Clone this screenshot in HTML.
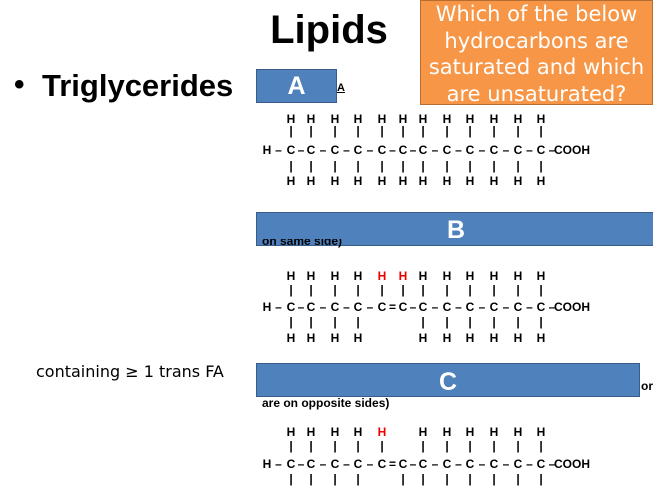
<!DOCTYPE html>
<html><head><meta charset="utf-8"><style>
html,body{margin:0;width:653px;height:491px;overflow:hidden}
body{background:#fff;position:relative;font-family:"Liberation Sans","DejaVu Sans",sans-serif}
.a{position:absolute;white-space:nowrap}
.box{position:absolute;background:#4F81BD;border:1.5px solid #385d8a;color:#fff;font-weight:bold;font-size:25px;text-align:center;box-sizing:border-box}
.g{position:absolute;font-weight:bold;font-size:12px;transform:translateX(-50%);color:#000}
</style></head><body>
<div class="a" style="left:0;width:658px;text-align:center;top:8px;font-size:40px;font-weight:bold">Lipids</div>
<div class="a" style="left:14px;top:68px;font-size:30px;font-weight:bold">•</div>
<div class="a" style="left:42px;top:68px;font-size:31px;font-weight:bold">Triglycerides</div>
<div class="a" style="left:420px;top:0;width:233px;height:105px;background:#F79646;border:1.5px solid #b66d31;box-sizing:border-box;color:#fff;font-size:21px;line-height:26.5px;text-align:center;white-space:normal;font-family:'DejaVu Sans',sans-serif">Which of the below hydrocarbons are saturated and which are unsaturated?</div>
<div class="box" style="left:256px;top:69px;width:81px;height:34px;line-height:32px">A</div>
<div class="a" style="left:337px;top:82px;font-size:11px;font-weight:bold;text-decoration:underline">A</div>
<div class="box" style="left:256px;top:212px;width:400px;height:34px;line-height:34px">B</div>
<div class="a" style="left:262px;top:239px;height:9px;overflow:hidden;font-size:12px;font-weight:bold;line-height:16px"><span style="position:relative;top:-6px">on same side)</span></div>
<div class="box" style="left:256px;top:363px;width:384px;height:34px;line-height:36px">C</div>
<div class="a" style="left:641px;top:379px;font-size:12px;font-weight:bold">or</div>
<div class="a" style="left:262px;top:396px;font-size:12px;font-weight:bold">are on opposite sides)</div>
<div class="a" style="left:36px;top:362px;font-size:16px;font-family:'DejaVu Sans',sans-serif">containing ≥ 1 trans FA</div>
<div id="mol"></div>
<script>
const cols=[291,311,335,358,382,403,423,447,470,494,518,541];
const mols=[
 {y:[120,132,151,167,182],top:"HHHHHHHHHHHH",bot:"HHHHHHHHHHHH",red:[],bond:"------------"},
 {y:[277,291,308,323,339],top:"HHHHHHHHHHHH",bot:"HHHH..HHHHHH",red:[4,5],bond:"-----=------"},
 {y:[433,447,465,480,999],top:"HHHHH.HHHHHH",bot:"HHHH.HHHHHHH",red:[4],bond:"-----=------"}
];
const root=document.getElementById('mol');
function put(x,y,t,c,name){if(y>491)return;const s=document.createElement('span');s.className='g';s.style.left=x+'px';s.style.top=(y-8)+'px';s.textContent=t;if(c)s.style.color=c;


root.appendChild(s);}
mols.forEach((m,mi)=>{
 cols.forEach((x,i)=>{
  if(m.top[i]==='H'){put(x,m.y[0],'H',m.red.includes(i)?'#e00':null,'h-atom');put(x,m.y[1],'|',null,'bond-line');}
  if(m.bot[i]==='H'){put(x,m.y[3],'|',null,'bond-line');put(x,m.y[4],'H',null,'h-atom');}
  put(x,m.y[2],'C',null,'c-atom');
  const prev=i===0?266:cols[i-1];
  put((prev+x)/2,m.y[2],m.bond[i]==='='?'=':'–',null,'bond');
 });
 put(267,m.y[2],'H',null,'h-atom');
 put(552,m.y[2],'–',null,'bond');
 put(572,m.y[2],'COOH',null,'cooh-group');
});
</script>
</body></html>
